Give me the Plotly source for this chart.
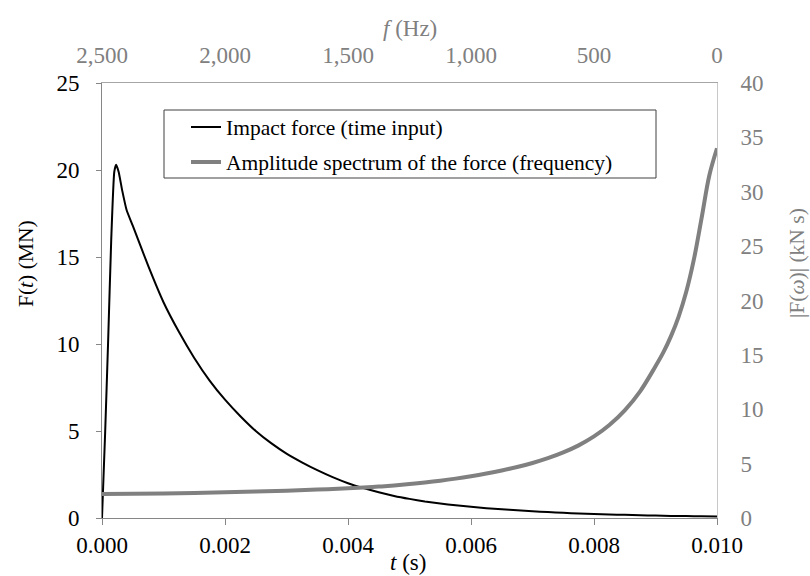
import plotly.graph_objects as go

# ---- data ----
t_force = [0, 0.00005, 0.0001, 0.00015, 0.0002, 0.00023, 0.00027, 0.00033, 0.0004,
           0.0005, 0.00075, 0.001, 0.00125, 0.0015, 0.00175, 0.002, 0.00225,
           0.0025, 0.00275, 0.003, 0.00325, 0.0035, 0.00375, 0.004, 0.00425,
           0.0045, 0.00475, 0.005, 0.00525, 0.0055, 0.00575, 0.006, 0.00625,
           0.0065, 0.00675, 0.007, 0.00725, 0.0075, 0.00775, 0.008, 0.00825,
           0.0085, 0.00875, 0.009, 0.00925, 0.0095, 0.00975, 0.010]
force_MN = [0, 4.8, 10.2, 16.0, 19.9, 20.3, 19.9, 18.8, 17.7,
            16.8, 14.5, 12.4, 10.7, 9.2, 7.9, 6.8, 5.85,
            5.0, 4.3, 3.7, 3.2, 2.75, 2.35, 2.0, 1.72,
            1.48, 1.27, 1.1, 0.95, 0.83, 0.73, 0.64, 0.56,
            0.5, 0.44, 0.39, 0.34, 0.3, 0.26, 0.23, 0.2,
            0.18, 0.16, 0.14, 0.12, 0.11, 0.095, 0.08]

freq_Hz = [2500, 2375, 2250, 2125, 2000, 1875, 1750, 1625, 1500,
           1437.5, 1375, 1312.5, 1250, 1187.5, 1125, 1062.5, 1000,
           937.5, 875, 812.5, 750, 687.5, 625, 562.5, 500,
           437.5, 375, 312.5, 250,
           218.75, 187.5, 156.25, 125, 93.75, 62.5, 31.25, 0]
amp_kNs = [2.2, 2.225, 2.26, 2.305, 2.36, 2.43, 2.515, 2.615, 2.725,
           2.80, 2.89, 2.995, 3.12, 3.265, 3.43, 3.62, 3.84,
           4.09, 4.37, 4.69, 5.06, 5.50, 6.03, 6.68, 7.50,
           8.55, 9.90, 11.65, 13.95,
           15.2, 16.7, 18.5, 20.8, 23.8, 27.6, 31.5, 34.0]

t_ticks = [0, 0.002, 0.004, 0.006, 0.008, 0.010]
f_ticks = [2500, 2000, 1500, 1000, 500, 0]
left_ticks = [0, 5, 10, 15, 20, 25]
right_ticks = [0, 5, 10, 15, 20, 25, 30, 35, 40]

FONT = "Liberation Serif"
GRAY = "#808080"

fig = go.Figure()
fig.add_trace(go.Scatter(
    x=t_force, y=force_MN, mode="lines", name="Impact force (time input)",
    line=dict(color="black", width=2, shape="spline", smoothing=0.5),
    xaxis="x", yaxis="y", legend="legend", showlegend=True))
fig.add_trace(go.Scatter(
    x=freq_Hz, y=amp_kNs, mode="lines", name="Amplitude spectrum of the force (frequency)",
    line=dict(color=GRAY, width=4, shape="spline", smoothing=1.0),
    xaxis="x2", yaxis="y2", legend="legend2", showlegend=True))

W, H = 810, 576
L, R, T, B = 102, 717, 83, 518
pw, ph = R - L, B - T
def px(x): return (x - L) / pw
def py(y): return (B - y) / ph

tickfont = dict(family=FONT, size=23, color="black")
grayfont = dict(family=FONT, size=23, color=GRAY)
legfont = dict(family=FONT, size=21.5, color="black")

fig.update_layout(
    width=W, height=H,
    margin=dict(l=L, r=W - R, t=T, b=H - B),
    paper_bgcolor="white", plot_bgcolor="white",
    showlegend=True,
    font=dict(family=FONT, size=21, color="black"),
    xaxis=dict(range=[0, 0.010], tickvals=t_ticks, tickformat=".3f",
               ticks="outside", ticklen=6, tickcolor="#868686",
               showline=True, linecolor="#868686", linewidth=1,
               showgrid=False, zeroline=False, tickfont=tickfont,
               ticklabelstandoff=0),
    xaxis2=dict(range=[2500, 0], overlaying="x", side="top", anchor="y",
                tickvals=f_ticks, tickformat=",", ticks="",
                showline=True, linecolor="#a6a6a6", linewidth=1,
                showgrid=False, zeroline=False, tickfont=grayfont,
                ticklabelstandoff=10),
    yaxis=dict(range=[0, 25], tickvals=left_ticks, ticks="outside", ticklen=5,
               tickcolor="#868686", showline=True, linecolor="#868686",
               linewidth=1, showgrid=False, zeroline=False, tickfont=tickfont,
               ticklabelstandoff=12),
    yaxis2=dict(range=[0, 40], tickvals=right_ticks, overlaying="y", side="right",
                anchor="x", ticks="", showline=True, linecolor="#c8c8c8",
                linewidth=1, showgrid=False, zeroline=False, tickfont=grayfont,
                ticklabelstandoff=18),
    legend=dict(x=px(186), y=py(127), xanchor="left", yanchor="middle",
                bgcolor="rgba(0,0,0,0)", borderwidth=0, itemwidth=30,
                font=legfont, visible=True),
    legend2=dict(x=px(186), y=py(162), xanchor="left", yanchor="middle",
                 bgcolor="rgba(0,0,0,0)", borderwidth=0, itemwidth=30,
                 font=legfont, visible=True),
    shapes=[dict(type="rect", xref="paper", yref="paper",
                 x0=px(164), x1=px(656), y0=py(178), y1=py(110),
                 line=dict(color="#404040", width=1), fillcolor="rgba(0,0,0,0)")],
    annotations=[
        dict(text="F(<i>t</i>) (MN)", xref="paper", yref="paper", x=px(26), y=py(264),
             textangle=-90, showarrow=False, xanchor="center", yanchor="middle",
             font=dict(family=FONT, size=21.5, color="black")),
        dict(text="|F(<i>ω</i>)| (kN s)", xref="paper", yref="paper", x=px(797), y=py(263),
             textangle=-90, showarrow=False, xanchor="center", yanchor="middle",
             font=dict(family=FONT, size=21.5, color=GRAY)),
        dict(text="<i>f</i> (Hz)", xref="paper", yref="paper", x=px(410), y=py(28),
             showarrow=False, xanchor="center", yanchor="middle",
             font=dict(family=FONT, size=23, color=GRAY)),
        dict(text="<i>t</i> (s)", xref="paper", yref="paper", x=px(408), y=py(562),
             showarrow=False, xanchor="center", yanchor="middle",
             font=dict(family=FONT, size=23, color="black")),
    ],
)

fig.write_html("out.html")
